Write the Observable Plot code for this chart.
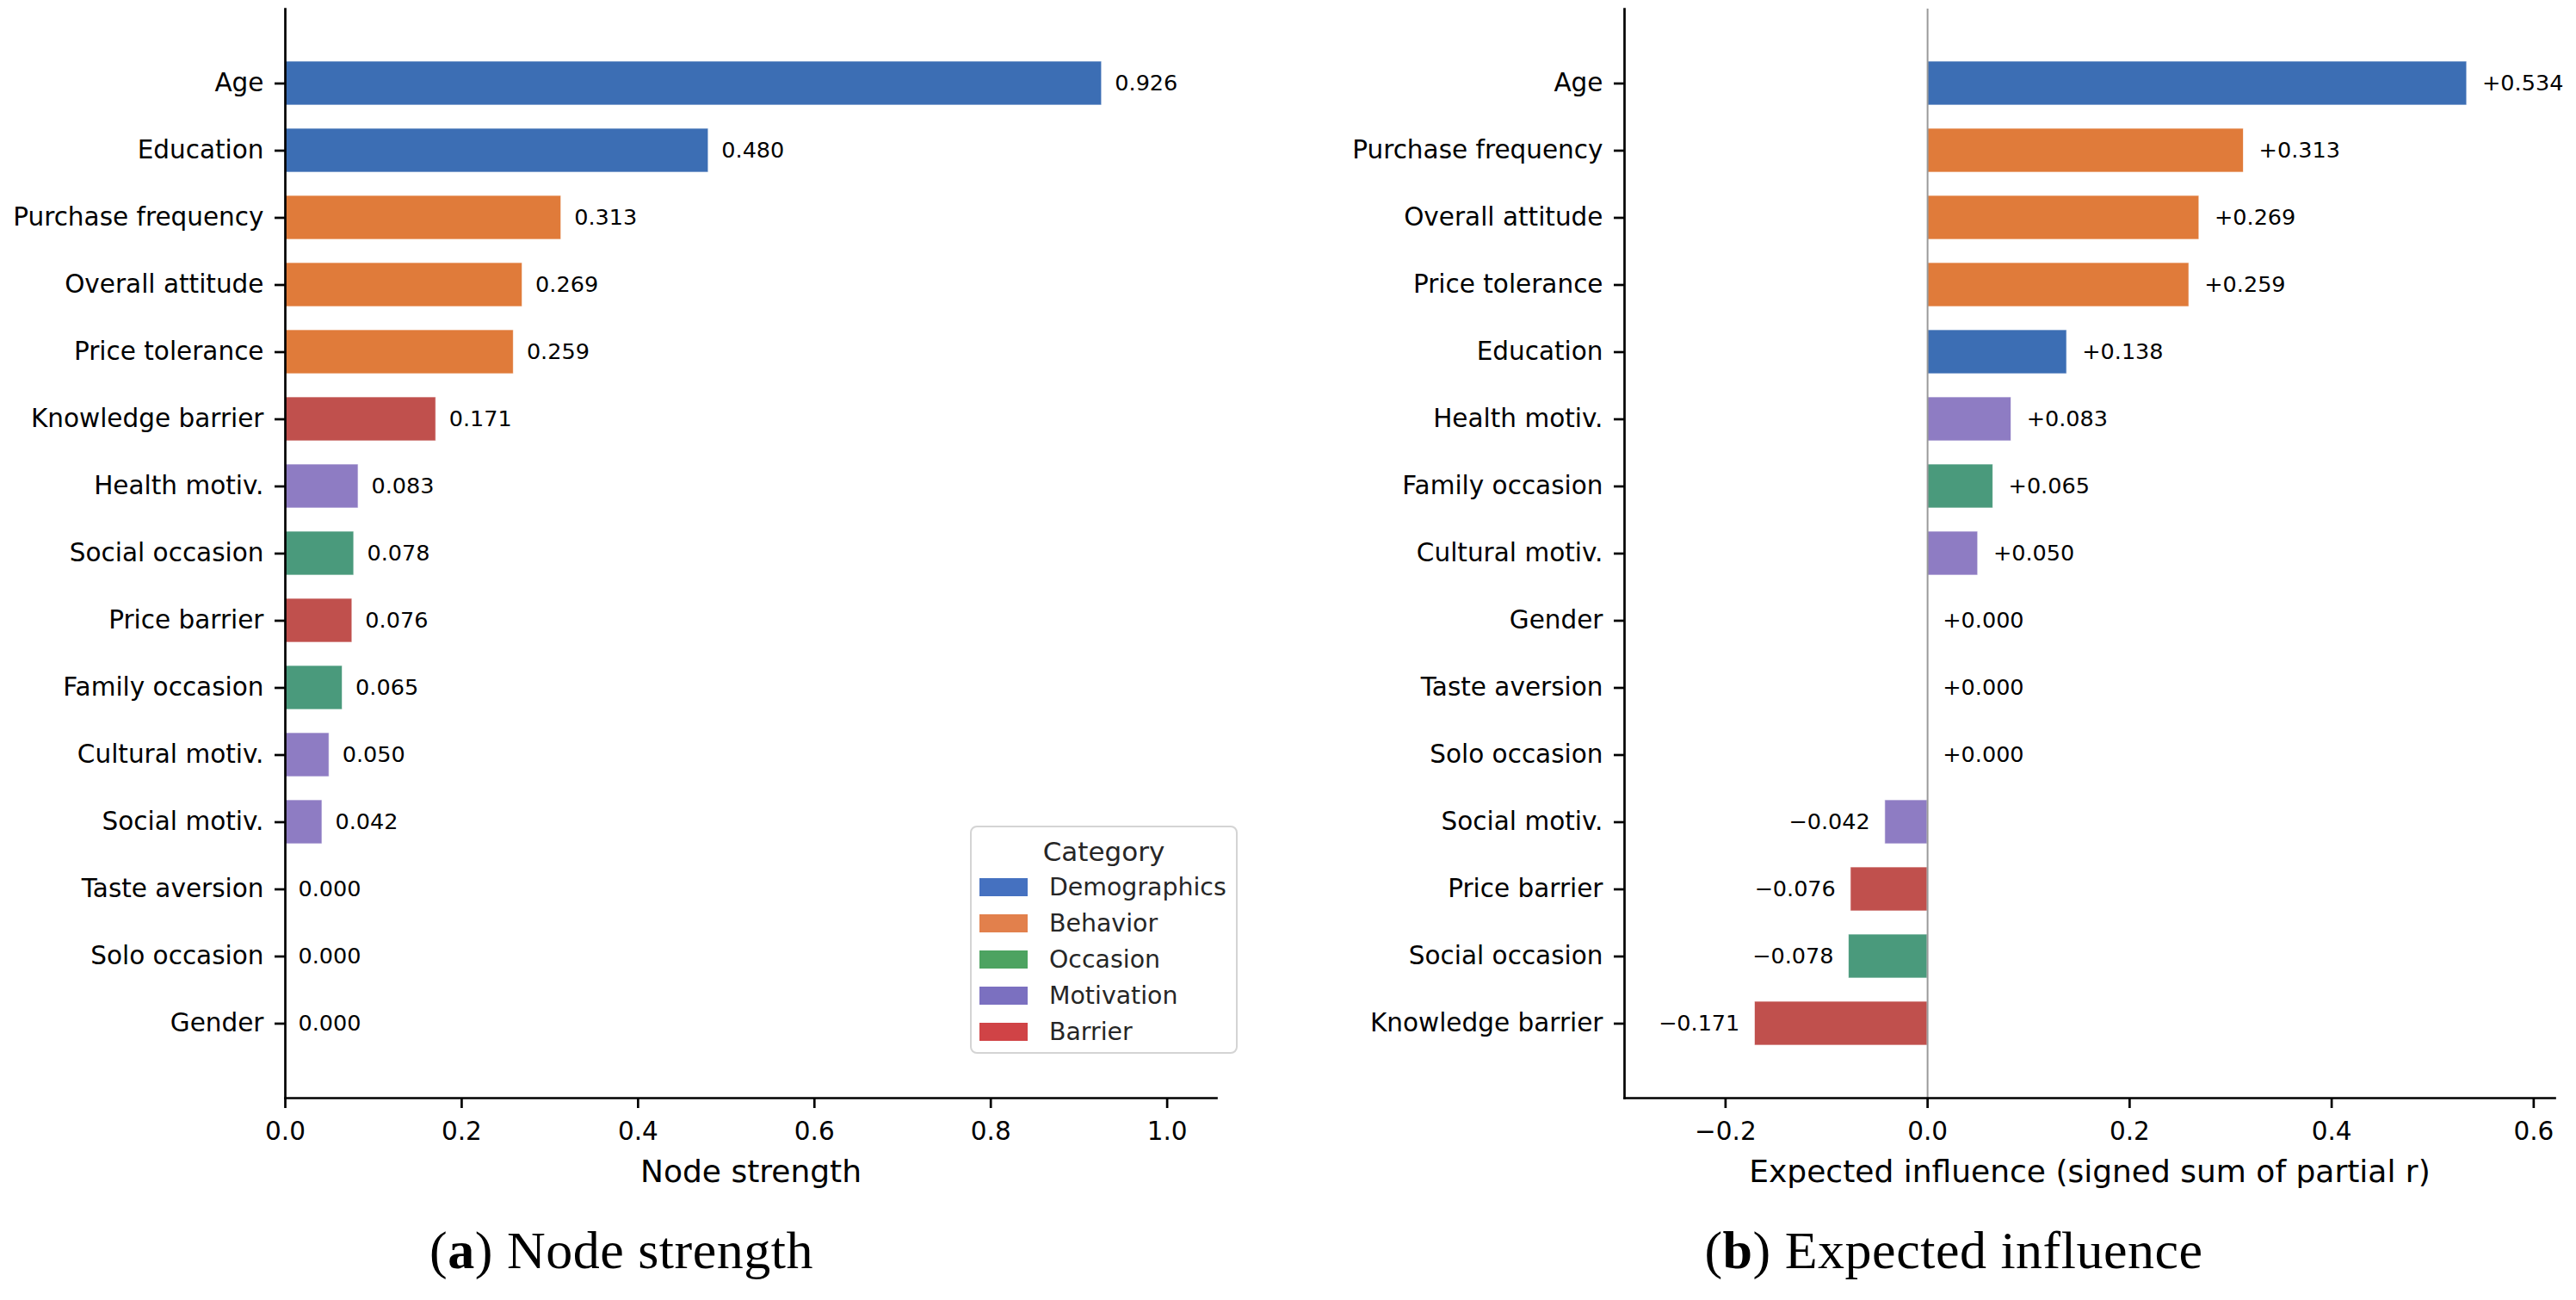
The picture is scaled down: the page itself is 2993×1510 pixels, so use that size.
<!DOCTYPE html>
<html>
<head>
<meta charset="utf-8">
<script src="https://cdn.jsdelivr.net/npm/d3@7"></script>
<script src="https://cdn.jsdelivr.net/npm/@observablehq/plot@0.6"></script>
<style>
  html, body { margin: 0; padding: 0; background: #fff; }
  #page { position: relative; width: 2993px; height: 1510px; background: #fff; overflow: hidden; }
  .panel { position: absolute; top: 0; }
  .caption { position: absolute; top: 1421px; width: 900px; text-align: center;
    font-family: "Liberation Serif", "DejaVu Serif", serif; font-size: 62px; line-height: 62px;
    color: #000; letter-spacing: 0.5px; }
  #legend { position: absolute; left: 1127px; top: 959px; width: 307px; height: 261px;
    border: 2px solid #d4d4d4; border-radius: 8px; background: #fff; font-family: "DejaVu Sans"; color: #262626; }
  #legend .title { position: absolute; left: 0; right: 0; top: 8px; height: 40px; line-height: 40px; text-align: center; font-size: 31px; }
  #legend .row { position: absolute; left: 0; height: 42px; line-height: 42px; font-size: 28.4px; }
  #legend .sw { position: absolute; left: 9px; top: 10px; width: 56px; height: 21px; }
  #legend .lab { position: absolute; left: 90px; top: 0; white-space: nowrap; }
</style>
</head>
<body>
<div id="page"></div>
<script>
// ---------------- data ----------------
const nodeNames = ["Age", "Education", "Gender", "Purchase frequency", "Overall attitude", "Price tolerance",
  "Knowledge barrier", "Price barrier", "Taste aversion", "Health motiv.", "Cultural motiv.", "Social motiv.",
  "Social occasion", "Family occasion", "Solo occasion"];
const nodeCategories = ["Demographics", "Demographics", "Demographics", "Behavior", "Behavior", "Behavior",
  "Barrier", "Barrier", "Barrier", "Motivation", "Motivation", "Motivation",
  "Occasion", "Occasion", "Occasion"];

const categories = ["Demographics", "Behavior", "Occasion", "Motivation", "Barrier"];
const barColors = ["#3c6eb4", "#e07b3a", "#4a9a7c", "#8e7cc3", "#c0504d"];
const legendColors = ["#4571c0", "#e2804c", "#4da361", "#7b70c0", "#d04346"];

const strengthNodes = ["Age", "Education", "Purchase frequency", "Overall attitude", "Price tolerance",
  "Knowledge barrier", "Health motiv.", "Social occasion", "Price barrier", "Family occasion",
  "Cultural motiv.", "Social motiv.", "Taste aversion", "Solo occasion", "Gender"];
const strengthValues = [0.926, 0.480, 0.313, 0.269, 0.259, 0.171, 0.083, 0.078, 0.076, 0.065, 0.050, 0.042, 0.000, 0.000, 0.000];

const influenceNodes = ["Age", "Purchase frequency", "Overall attitude", "Price tolerance", "Education",
  "Health motiv.", "Family occasion", "Cultural motiv.", "Gender", "Taste aversion", "Solo occasion",
  "Social motiv.", "Price barrier", "Social occasion", "Knowledge barrier"];
const influenceValues = [0.534, 0.313, 0.269, 0.259, 0.138, 0.083, 0.065, 0.050, 0.000, 0.000, 0.000, -0.042, -0.076, -0.078, -0.171];

const strengthTicks = [0, 0.2, 0.4, 0.6, 0.8, 1.0];
const influenceTicks = [-0.2, 0, 0.2, 0.4, 0.6];

const strengthLabel = "Node strength";
const influenceLabel = "Expected influence (signed sum of partial r)";
const captionA = ["a", "Node strength"];
const captionB = ["b", "Expected influence"];

// ---------------- build ----------------
const catOf = new Map(nodeNames.map((n, i) => [n, nodeCategories[i]]));
const strengthData = strengthNodes.map((n, i) => ({node: n, value: strengthValues[i], category: catOf.get(n)}));
const influenceData = influenceNodes.map((n, i) => ({node: n, value: influenceValues[i], category: catOf.get(n)}));

const page = document.getElementById("page");
const baseStyle = {fontFamily: "DejaVu Sans", fontSize: "29.5px", color: "black", background: "transparent", overflow: "visible"};
const SW = 2.7;

const left = Plot.plot({
  width: 1496, height: 1400,
  marginLeft: 331, marginRight: 83, marginTop: 10, marginBottom: 125,
  style: baseStyle,
  x: {domain: [0, 1.056]},
  y: {domain: strengthNodes, paddingInner: 0.34, paddingOuter: 0.725, align: 0.5},
  color: {domain: categories, range: barColors},
  marks: [
    Plot.barX(strengthData, {x: "value", y: "node", fill: "category", stroke: "white", strokeWidth: 1, strokeOpacity: 0.7}),
    Plot.text(strengthData, {x: "value", y: "node", text: d => d3.format(".3f")(d.value), textAnchor: "start", dx: 15, fontSize: 25.5, fill: "black"}),
    Plot.axisX({ticks: strengthTicks, tickFormat: ".1f", tickSize: 12, tickPadding: 16, strokeWidth: SW, label: null}),
    Plot.axisY({tickSize: 12, tickPadding: 13, strokeWidth: SW, label: null}),
    Plot.frame({anchor: "left", strokeWidth: SW}),
    Plot.frame({anchor: "bottom", strokeWidth: SW}),
    Plot.text([strengthLabel], {text: d => d, frameAnchor: "bottom", lineAnchor: "top", dy: 72, fontSize: 36, fill: "black"})
  ]
});
left.classList.add("panel");
left.style.left = "0px";
page.appendChild(left);

const right = Plot.plot({
  width: 1497, height: 1400,
  marginLeft: 391, marginRight: 25, marginTop: 10, marginBottom: 125,
  style: baseStyle,
  x: {domain: [-0.3, 0.621]},
  y: {domain: influenceNodes, paddingInner: 0.34, paddingOuter: 0.725, align: 0.5},
  color: {domain: categories, range: barColors},
  marks: [
    Plot.barX(influenceData, {x: "value", y: "node", fill: "category", stroke: "white", strokeWidth: 1, strokeOpacity: 0.7}),
    Plot.ruleX([0], {stroke: "#9a9a9a", strokeWidth: 2}),
    Plot.text(influenceData.filter(d => d.value >= 0), {x: "value", y: "node", text: d => d3.format("+.3f")(d.value), textAnchor: "start", dx: 17.6, fontSize: 25.5, fill: "black"}),
    Plot.text(influenceData.filter(d => d.value < 0), {x: "value", y: "node", text: d => d3.format("+.3f")(d.value), textAnchor: "end", dx: -17.6, fontSize: 25.5, fill: "black"}),
    Plot.axisX({ticks: influenceTicks, tickFormat: ".1f", tickSize: 12, tickPadding: 16, strokeWidth: SW, label: null}),
    Plot.axisY({tickSize: 12, tickPadding: 13, strokeWidth: SW, label: null}),
    Plot.frame({anchor: "left", strokeWidth: SW}),
    Plot.frame({anchor: "bottom", strokeWidth: SW}),
    Plot.text([influenceLabel], {text: d => d, frameAnchor: "bottom", lineAnchor: "top", dy: 72, fontSize: 36, fill: "black"})
  ]
});
right.classList.add("panel");
right.style.left = "1496px";
page.appendChild(right);

// legend
const legend = document.createElement("div");
legend.id = "legend";
const title = document.createElement("div");
title.className = "title";
title.textContent = "Category";
legend.appendChild(title);
categories.forEach((c, i) => {
  const row = document.createElement("div");
  row.className = "row";
  row.style.top = (49 + 42 * i) + "px";
  const sw = document.createElement("div");
  sw.className = "sw";
  sw.style.background = legendColors[i];
  const lab = document.createElement("div");
  lab.className = "lab";
  lab.textContent = c;
  row.appendChild(sw); row.appendChild(lab);
  legend.appendChild(row);
});
page.appendChild(legend);

// captions
function caption(parts, center) {
  const d = document.createElement("div");
  d.className = "caption";
  d.style.left = (center - 450) + "px";
  const b = document.createElement("b");
  b.textContent = parts[0];
  d.appendChild(document.createTextNode("("));
  d.appendChild(b);
  d.appendChild(document.createTextNode(") " + parts[1]));
  page.appendChild(d);
}
caption(captionA, 722);
caption(captionB, 2270);
</script>
</body>
</html>
